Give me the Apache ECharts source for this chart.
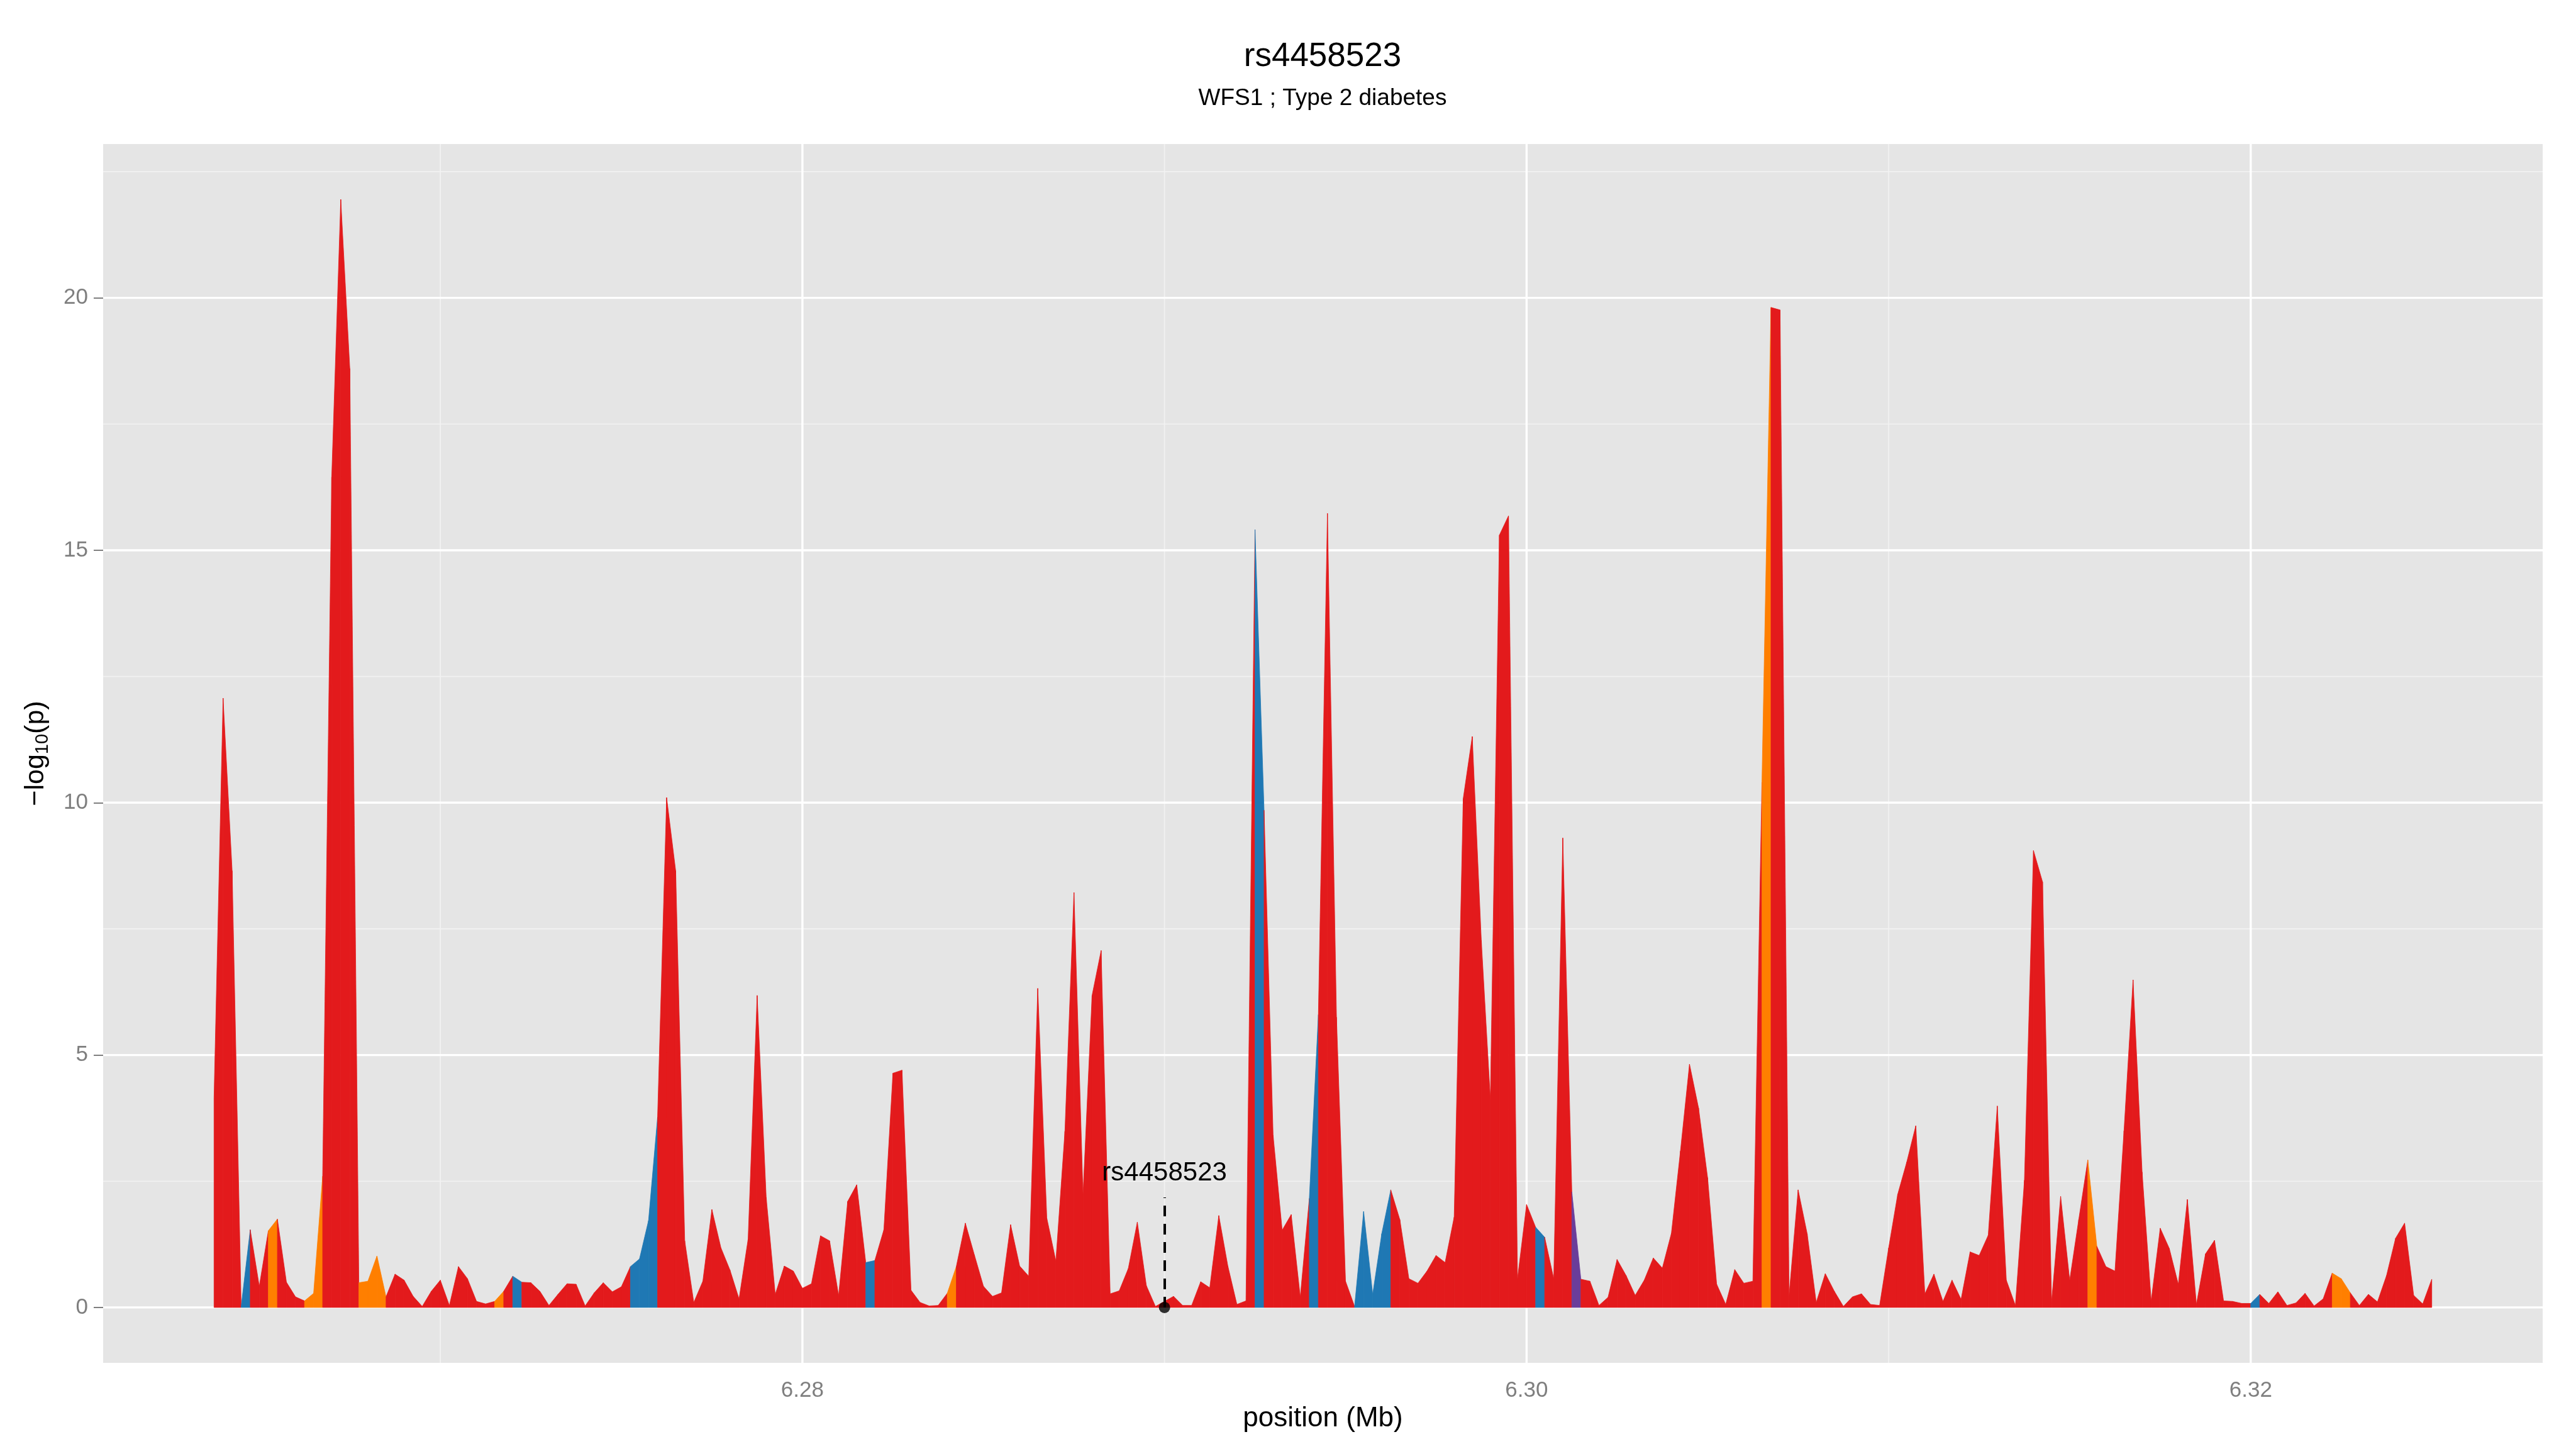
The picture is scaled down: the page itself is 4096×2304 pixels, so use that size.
<!DOCTYPE html>
<html>
<head>
<meta charset="utf-8">
<script src="https://cdn.jsdelivr.net/npm/echarts@6/dist/echarts.min.js"></script>
<style>
html, body { margin: 0; padding: 0; background: #ffffff; }
#main { width: 4096px; height: 2304px; }
</style>
</head>
<body>
<div id="main"></div>
<script>
// SNP positions (Mb)
var positions = [
  6.26375,6.26400,6.26425,6.26450,6.26475,6.26500,6.26525,6.26550,6.26575,6.26600,
  6.26625,6.26650,6.26675,6.26700,6.26725,6.26750,6.26775,6.26800,6.26825,6.26850,
  6.26875,6.26900,6.26925,6.26950,6.26975,6.27000,6.27025,6.27050,6.27075,6.27100,
  6.27125,6.27150,6.27175,6.27200,6.27225,6.27250,6.27275,6.27300,6.27325,6.27350,
  6.27375,6.27400,6.27425,6.27450,6.27475,6.27500,6.27525,6.27550,6.27575,6.27600,
  6.27625,6.27650,6.27675,6.27700,6.27725,6.27750,6.27775,6.27800,6.27825,6.27850,
  6.27875,6.27900,6.27925,6.27950,6.27975,6.28000,6.28025,6.28050,6.28075,6.28100,
  6.28125,6.28150,6.28175,6.28200,6.28225,6.28250,6.28275,6.28300,6.28325,6.28350,
  6.28375,6.28400,6.28425,6.28450,6.28475,6.28500,6.28525,6.28550,6.28575,6.28600,
  6.28625,6.28650,6.28675,6.28700,6.28725,6.28750,6.28775,6.28800,6.28825,6.28850,
  6.28875,6.28900,6.28925,6.28950,6.28975,6.29000,6.29025,6.29050,6.29075,6.29100,
  6.29125,6.29150,6.29175,6.29200,6.29225,6.29250,6.29275,6.29300,6.29325,6.29350,
  6.29375,6.29400,6.29425,6.29450,6.29475,6.29500,6.29525,6.29550,6.29575,6.29600,
  6.29625,6.29650,6.29675,6.29700,6.29725,6.29750,6.29775,6.29800,6.29825,6.29850,
  6.29875,6.29900,6.29925,6.29950,6.29975,6.30000,6.30025,6.30050,6.30075,6.30100,
  6.30125,6.30150,6.30175,6.30200,6.30225,6.30250,6.30275,6.30300,6.30325,6.30350,
  6.30375,6.30400,6.30425,6.30450,6.30475,6.30500,6.30525,6.30550,6.30575,6.30600,
  6.30625,6.30650,6.30675,6.30700,6.30725,6.30750,6.30775,6.30800,6.30825,6.30850,
  6.30875,6.30900,6.30925,6.30950,6.30975,6.31000,6.31025,6.31050,6.31075,6.31100,
  6.31125,6.31150,6.31175,6.31200,6.31225,6.31250,6.31275,6.31300,6.31325,6.31350,
  6.31375,6.31400,6.31425,6.31450,6.31475,6.31500,6.31525,6.31550,6.31575,6.31600,
  6.31625,6.31650,6.31675,6.31700,6.31725,6.31750,6.31775,6.31800,6.31825,6.31850,
  6.31875,6.31900,6.31925,6.31950,6.31975,6.32000,6.32025,6.32050,6.32075,6.32100,
  6.32125,6.32150,6.32175,6.32200,6.32225,6.32250,6.32275,6.32300,6.32325,6.32350,
  6.32375,6.32400,6.32425,6.32450,6.32475,6.32500
];

// -log10(p) at each position
var logp = [
  4.15, 12.07, 8.65, 0.02, 1.54, 0.42, 1.52, 1.75, 0.50, 0.21,
  0.13, 0.28, 2.60, 16.45, 21.95, 18.60, 0.49, 0.52, 1.02, 0.21,
  0.66, 0.54, 0.22, 0.02, 0.32, 0.54, 0.04, 0.81, 0.57, 0.12,
  0.07, 0.12, 0.32, 0.62, 0.50, 0.49, 0.32, 0.04, 0.26, 0.47,
  0.46, 0.03, 0.29, 0.49, 0.31, 0.41, 0.81, 0.96, 1.72, 3.77,
  10.10, 8.65, 1.32, 0.10, 0.52, 1.94, 1.18, 0.74, 0.17, 1.35,
  6.18, 2.18, 0.26, 0.82, 0.72, 0.38, 0.47, 1.42, 1.32, 0.24,
  2.10, 2.43, 0.89, 0.93, 1.54, 4.64, 4.70, 0.34, 0.10, 0.03,
  0.04, 0.28, 0.81, 1.67, 1.04, 0.42, 0.22, 0.29, 1.64, 0.82,
  0.62, 6.32, 1.77, 0.92, 3.49, 8.22, 2.24, 6.18, 7.07, 0.27,
  0.33, 0.77, 1.69, 0.43, 0.02, 0.12, 0.22, 0.04, 0.04, 0.51,
  0.39, 1.82, 0.82, 0.06, 0.13, 15.41, 9.85, 3.41, 1.53, 1.84,
  0.21, 2.16, 5.80, 15.73, 5.75, 0.52, 0.02, 1.90, 0.26, 1.46,
  2.33, 1.74, 0.57, 0.48, 0.72, 1.03, 0.89, 1.79, 10.08, 11.31,
  7.27, 4.13, 15.30, 15.68, 0.57, 2.04, 1.59, 1.39, 0.57, 9.30,
  2.29, 0.56, 0.52, 0.04, 0.20, 0.95, 0.63, 0.24, 0.54, 0.98,
  0.78, 1.47, 3.10, 4.82, 3.95, 2.57, 0.46, 0.06, 0.75, 0.48,
  0.52, 10.40, 19.81, 19.76, 0.24, 2.33, 1.46, 0.10, 0.67, 0.32,
  0.02, 0.21, 0.27, 0.06, 0.04, 1.18, 2.24, 2.88, 3.60, 0.27,
  0.66, 0.12, 0.54, 0.16, 1.10, 1.03, 1.43, 3.99, 0.54, 0.04,
  2.52, 9.05, 8.43, 0.11, 2.20, 0.54, 1.74, 2.92, 1.21, 0.81,
  0.72, 3.50, 6.49, 2.68, 0.13, 1.57, 1.17, 0.46, 2.14, 0.06,
  1.06, 1.33, 0.13, 0.12, 0.08, 0.08, 0.26, 0.08, 0.31, 0.04,
  0.09, 0.28, 0.03, 0.17, 0.68, 0.57, 0.29, 0.04, 0.26, 0.11,
  0.63, 1.37, 1.67, 0.24, 0.07, 0.56
];

// segments (index of left point) that are not red
var blueSeg = [3, 33, 46, 47, 48, 72, 115, 121, 126, 127, 128, 129, 146, 225];
var orangeSeg = [6, 10, 11, 16, 17, 18, 31, 81, 171, 207, 234, 235];
var purpleSeg = [150];

var xTicks = [6.28, 6.30, 6.32];
var xMinor = [6.27, 6.29, 6.31];
var yTicks = [0, 5, 10, 15, 20];
var yMinor = [2.5, 7.5, 12.5, 17.5, 22.5];

var leadName = 'rs4458523';
var leadPos = 6.29;
var leadLogp = 0;

var RED = '#E31A1C', BLUE = '#1F78B4', ORANGE = '#FF7F00', PURPLE = '#6A3D9A';
var FONT = '"Liberation Sans", Arial, Helvetica, sans-serif';

// ggplot style 5% expansion
var xRange = positions[positions.length - 1] - positions[0];
var xMin = positions[0] - 0.05 * xRange;
var xMax = positions[positions.length - 1] + 0.05 * xRange;
var yTop = Math.max.apply(null, logp);
var yMin = -0.05 * yTop;
var yMax = yTop * 1.05;

var segData = [];
var segColor = [];
for (var i = 0; i < positions.length - 1; i++) {
    var c = RED;
    if (blueSeg.indexOf(i) >= 0) c = BLUE;
    if (orangeSeg.indexOf(i) >= 0) c = ORANGE;
    if (purpleSeg.indexOf(i) >= 0) c = PURPLE;
    segData.push([positions[i], logp[i], positions[i + 1], logp[i + 1]]);
    segColor.push(c);
}

// gridlines: [value, horizontal?, major?]
var gridData = [];
xMinor.forEach(function (v) { gridData.push([v, 0, 0]); });
yMinor.forEach(function (v) { gridData.push([v, 1, 0]); });
xTicks.forEach(function (v) { gridData.push([v, 0, 1]); });
yTicks.forEach(function (v) { gridData.push([v, 1, 1]); });

function renderGrid(params, api) {
    var cs = params.coordSys;
    var v = api.value(0);
    var style = {
        stroke: api.value(2) ? '#FFFFFF' : '#F2F2F2',
        lineWidth: api.value(2) ? 3.4 : 1.7
    };
    if (api.value(1)) {
        var y = api.coord([xMin, v])[1];
        return { type: 'line', shape: { x1: cs.x, y1: y, x2: cs.x + cs.width, y2: y }, style: style };
    }
    var x = api.coord([v, 0])[0];
    return { type: 'line', shape: { x1: x, y1: cs.y, x2: x, y2: cs.y + cs.height }, style: style };
}

function renderArea(params, api) {
    var p0 = api.coord([api.value(0), 0]);
    var p1 = api.coord([api.value(0), api.value(1)]);
    var p2 = api.coord([api.value(2), api.value(3)]);
    var p3 = api.coord([api.value(2), 0]);
    var col = segColor[params.dataIndex];
    return {
        type: 'polygon',
        shape: { points: [p0, p1, p2, p3] },
        style: { fill: col, stroke: col, lineWidth: 0.8 }
    };
}

var myChart = echarts.init(document.getElementById('main'));

var option = {
    animation: false,
    backgroundColor: '#FFFFFF',
    textStyle: { fontFamily: FONT },
    title: [
        {
            text: leadName,
            left: 2103,
            textAlign: 'center',
            top: 64,
            padding: 0,
            textStyle: { fontSize: 53, fontWeight: 'normal', color: '#000000', fontFamily: FONT }
        },
        {
            text: 'WFS1 ; Type 2 diabetes',
            left: 2103,
            textAlign: 'center',
            top: 138,
            padding: 0,
            textStyle: { fontSize: 37, fontWeight: 'normal', color: '#000000', fontFamily: FONT }
        }
    ],
    grid: {
        left: 164,
        right: 53,
        top: 229,
        bottom: 137,
        show: true,
        backgroundColor: '#E5E5E5',
        borderWidth: 0,
        containLabel: false,
        outerBoundsMode: 'none'
    },
    xAxis: {
        type: 'value',
        min: xMin,
        max: xMax,
        name: 'position (Mb)',
        nameLocation: 'middle',
        nameGap: 60,
        nameTextStyle: { fontSize: 44, color: '#000000', fontFamily: FONT },
        axisLine: { show: false },
        axisTick: {
            show: true,
            length: 15,
            customValues: xTicks,
            lineStyle: { color: '#7F7F7F', width: 2 }
        },
        axisLabel: {
            show: true,
            customValues: xTicks,
            margin: 27,
            fontSize: 35,
            color: '#7F7F7F',
            fontFamily: FONT,
            formatter: function (v) { return v.toFixed(2); }
        },
        splitLine: { show: false }
    },
    yAxis: {
        type: 'value',
        min: yMin,
        max: yMax,
        name: '{a|\u2212log}{s|10}{a|(p)}',
        nameLocation: 'middle',
        nameRotate: 90,
        nameGap: 82,
        nameTextStyle: {
            color: '#000000',
            fontFamily: FONT,
            rich: {
                a: { fontSize: 43, lineHeight: 50, verticalAlign: 'middle', color: '#000000', fontFamily: FONT },
                s: { fontSize: 29, lineHeight: 29, verticalAlign: 'bottom', color: '#000000', fontFamily: FONT }
            }
        },
        axisLine: { show: false },
        axisTick: {
            show: true,
            length: 15,
            customValues: yTicks,
            lineStyle: { color: '#7F7F7F', width: 2 }
        },
        axisLabel: {
            show: true,
            customValues: yTicks,
            margin: 24,
            fontSize: 35,
            color: '#7F7F7F',
            fontFamily: FONT,
            formatter: function (v) { return String(v); }
        },
        splitLine: { show: false }
    },
    series: [
        {
            name: 'grid',
            type: 'custom',
            silent: true,
            z: 1,
            renderItem: renderGrid,
            data: gridData
        },
        {
            name: 'signal',
            type: 'custom',
            silent: true,
            z: 2,
            renderItem: renderArea,
            encode: { x: [0, 2], y: [1, 3] },
            data: segData
        },
        {
            name: 'lead',
            type: 'scatter',
            z: 5,
            symbolSize: 18,
            itemStyle: { color: '#000000' },
            data: [[leadPos, leadLogp]],
            markLine: {
                silent: true,
                symbol: ['none', 'none'],
                lineStyle: { color: '#000000', width: 4, type: [17, 12] },
                label: {
                    show: true,
                    position: 'end',
                    distance: 18,
                    formatter: leadName,
                    color: '#000000',
                    fontSize: 42,
                    fontFamily: FONT
                },
                data: [[{ coord: [leadPos, leadLogp] }, { coord: [leadPos, 2.18] }]]
            }
        }
    ]
};

myChart.setOption(option);
</script>
</body>
</html>
